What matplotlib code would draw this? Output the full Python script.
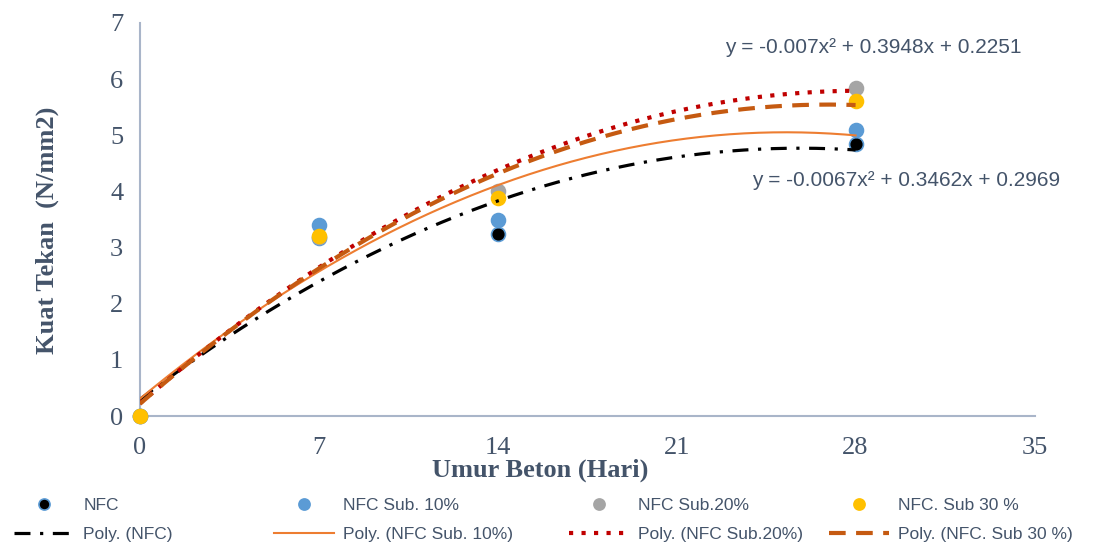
import numpy as np
import matplotlib
matplotlib.use("Agg")
import matplotlib.pyplot as plt
from matplotlib.lines import Line2D

# concrete age (days) and compressive strength (N/mm2) per mix
umur = [0, 7, 14, 28]
nfc = [0, 3.17, 3.24, 4.85]
nfc_sub10 = [0, 3.40, 3.49, 5.10]
nfc_sub20 = [0, 3.19, 4.01, 5.84]
nfc_sub30 = [0, 3.21, 3.88, 5.61]

# trendline coefficients shown on the chart (x^2, x, const)
coef_nfc = [-0.0067, 0.3462, 0.2969]
coef_sub20 = [-0.007, 0.3948, 0.2251]

TEXT = "#44546A"
SERIF = "Liberation Serif"
SANS = "Liberation Sans"

fig = plt.figure(figsize=(11.1, 5.44), dpi=100)
ax = fig.add_axes([0.126, 0.235, 0.806, 0.723])

# scatter points
pts = [
    (nfc, "black", "#5B9BD5", "NFC"),
    (nfc_sub10, "#5B9BD5", "#5B9BD5", "NFC Sub. 10%"),
    (nfc_sub20, "#A5A5A5", "#A5A5A5", "NFC Sub.20%"),
    (nfc_sub30, "#FFC000", "#FFC000", "NFC. Sub 30 %"),
]
markers = []
for vals, fc, ec, lab in pts:
    ax.plot(umur, vals, linestyle="none", marker="o", markersize=10,
            markerfacecolor=fc, markeredgecolor=ec, markeredgewidth=1.2,
            zorder=3, clip_on=False)
    markers.append(Line2D([], [], linestyle="none", marker="o", markersize=8,
                          markerfacecolor=fc, markeredgecolor=ec,
                          markeredgewidth=1.2, label=lab))

# second-order polynomial trendlines
xs = np.linspace(0, 28, 200)
coef_sub10 = np.polyfit(umur, nfc_sub10, 2)
coef_sub30 = np.polyfit(umur, nfc_sub30, 2)
trend = [
    (coef_nfc, dict(color="black", linestyle=(0, (5, 3, 1, 3)), linewidth=2.3), "Poly. (NFC)"),
    (coef_sub10, dict(color="#ED7D31", linestyle="-", linewidth=1.5), "Poly. (NFC Sub. 10%)"),
    (coef_sub20, dict(color="#C00000", linestyle=(0, (1, 2)), linewidth=3), "Poly. (NFC Sub.20%)"),
    (coef_sub30, dict(color="#C55A11", linestyle=(0, (4, 2.5)), linewidth=3), "Poly. (NFC. Sub 30 %)"),
]
lines = []
for c, style, lab in trend:
    ax.plot(xs, np.polyval(c, xs), zorder=4, **style)
    lines.append(Line2D([], [], label=lab, **style))

ax.set_xlim(0, 35)
ax.set_ylim(0, 7)
ax.set_xticks(range(0, 36, 7))
ax.set_yticks(range(0, 8))
ax.tick_params(length=0, labelsize=19, colors=TEXT)
ax.tick_params(axis="x", pad=15)
ax.tick_params(axis="y", pad=12)
for t in ax.get_xticklabels() + ax.get_yticklabels():
    t.set_fontfamily(SERIF)
for s in ["top", "right"]:
    ax.spines[s].set_visible(False)
for s in ["left", "bottom"]:
    ax.spines[s].set_color("#A9B5C9")
    ax.spines[s].set_linewidth(1.5)

ax.set_xlabel("Umur Beton (Hari)", fontsize=19, fontweight="bold",
              family=SERIF, color=TEXT)
ax.xaxis.set_label_coords(0.448, -0.137)
ax.set_ylabel("Kuat Tekan  (N/mm2)", fontsize=19, fontweight="bold",
              family=SERIF, color=TEXT)
ax.yaxis.set_label_coords(-0.103, 0.473)
ax.yaxis.label.set_va("center")
ax.xaxis.label.set_va("center")

ax.text(22.88, 6.57, "y = -0.007x² + 0.3948x + 0.2251", fontsize=15,
        family=SANS, color=TEXT, va="center")
ax.text(23.93, 4.20, "y = -0.0067x² + 0.3462x + 0.2969", fontsize=15,
        family=SANS, color=TEXT, va="center")

# legend: one column block per series
col_x = [0.011, 0.245, 0.511, 0.745]
for i in range(4):
    leg = fig.legend(handles=[markers[i], lines[i]], loc="lower left",
                     bbox_to_anchor=(col_x[i], 0.0), frameon=False,
                     borderpad=0.1, borderaxespad=0,
                     handlelength=3.5, handletextpad=0.5, labelspacing=0.8,
                     prop={"family": SANS, "size": 12.5})
    for t in leg.get_texts():
        t.set_color(TEXT)

fig.savefig("out.png", dpi=100)
